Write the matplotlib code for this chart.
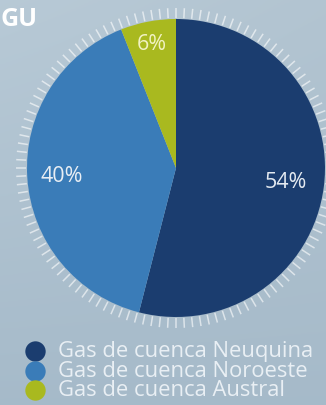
import numpy as np
import matplotlib
matplotlib.use("Agg")
import matplotlib.pyplot as plt
from matplotlib.collections import LineCollection

# Gas supply by basin (share, %)
categories = ["Gas de cuenca Neuquina", "Gas de cuenca Noroeste", "Gas de cuenca Austral"]
shares = [54, 40, 6]
pct_labels = ["54%", "40%", "6%"]
colors = ["#1b3d6f", "#3a7cb8", "#a9b91f"]
label_colors = ["#e4eaf1", "#e8eef4", "#f1f2c2"]
label_radius = [0.74, 0.77, 0.85]

W, H = 326, 406
fig = plt.figure(figsize=(W / 100, H / 100), dpi=100)
ax = fig.add_axes([0, 0, 1, 1])

# soft sky-like background
yy, xx = np.mgrid[0:1:200j, 0:1:160j]
top = np.array([0.70, 0.77, 0.82])
bot = np.array([0.65, 0.73, 0.79])
grad = top[None, None, :] * (1 - yy[..., None]) + bot[None, None, :] * yy[..., None]
grad += (0.02 * (1 - xx) * (1 - yy))[..., None]
ax.imshow(np.clip(grad, 0, 1), extent=(0, W, 0, H), origin="upper", zorder=0, aspect="auto")

cx, cy, r = 176, 406 - 169, 149

wedges, _ = ax.pie(shares, colors=colors, startangle=90, counterclock=False,
                   center=(cx, cy), radius=r, frame=True,
                   wedgeprops=dict(linewidth=0))
for w in wedges:
    w.set_zorder(2)

# radial tick ring around the pie
ang = np.deg2rad(np.arange(0, 360, 3))
r0, r1 = r + 1, r + 11
segs = [[(cx + r0 * np.cos(a), cy + r0 * np.sin(a)),
         (cx + r1 * np.cos(a), cy + r1 * np.sin(a))] for a in ang]
ax.add_collection(LineCollection(segs, colors="white", linewidths=1.1, alpha=0.6, zorder=1))

# percentage labels placed along each wedge's mid-angle
start = 90.0
for val, txt, col, rf in zip(shares, pct_labels, label_colors, label_radius):
    mid = np.deg2rad(start - val * 3.6 / 2)
    ax.text(cx + rf * r * np.cos(mid), cy + rf * r * np.sin(mid), txt,
            color=col, fontsize=15.5, family="Open Sans", ha="center", va="center", zorder=3)
    start -= val * 3.6

# legend
leg_y = [406 - 352, 406 - 372, 406 - 391]
for yv, col, name in zip(leg_y, colors, categories):
    ax.scatter([35], [yv], s=215, color=col, zorder=3, linewidths=0)
    ax.text(58, yv, name, color="#e9eff4", fontsize=15.8, family="Open Sans",
            ha="left", va="center", zorder=3)

ax.text(1, 406 - 19, "GU", color="white", fontsize=18, fontweight="bold",
        family="Open Sans", ha="left", va="center", zorder=3)

ax.set_xlim(0, W)
ax.set_ylim(0, H)
ax.set_aspect("auto")
ax.axis("off")

fig.savefig("out.png", dpi=100)
